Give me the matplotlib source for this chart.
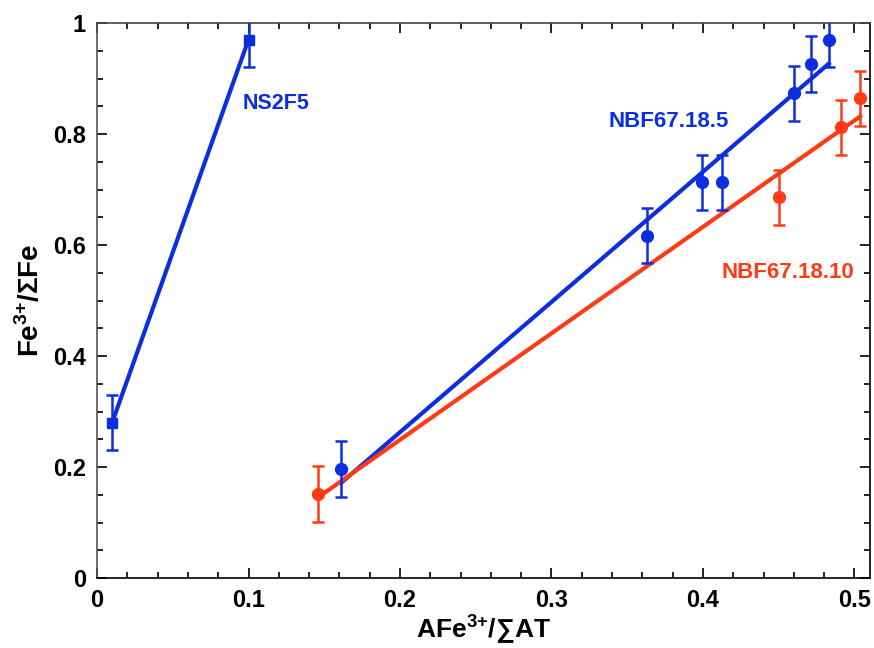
import numpy as np
import matplotlib
matplotlib.use("Agg")
import matplotlib.pyplot as plt
from matplotlib.ticker import MultipleLocator

plt.rcParams['font.family'] = ['Liberation Sans', 'DejaVu Sans']
plt.rcParams['font.weight'] = 'bold'
plt.rcParams['mathtext.fontset'] = 'custom'
plt.rcParams['mathtext.rm'] = 'Liberation Sans:bold'
plt.rcParams['mathtext.bf'] = 'Liberation Sans:bold'

# Data
ns_x = [0.01, 0.10]
ns_y = [0.28, 0.97]
ns_err = [0.05, 0.05]

b_x = [0.161, 0.363, 0.3995, 0.4127, 0.4604, 0.471, 0.483]
b_y = [0.196, 0.617, 0.713, 0.713, 0.873, 0.926, 0.970]
b_err = [0.05] * 7

r_x = [0.1456, 0.4505, 0.491, 0.5037]
r_y = [0.151, 0.686, 0.812, 0.864]
r_err = [0.05] * 4

blue = '#0A2EE0'
red = '#FF3A14'

fig = plt.figure(figsize=(8.74, 6.48), dpi=100)
ax = fig.add_axes([0.111, 0.108, 0.884, 0.8565])

# NS2F5
ax.plot(ns_x, ns_y, color=blue, lw=3.0, zorder=2)
ax.errorbar(ns_x, ns_y, yerr=ns_err, fmt='s', color=blue, ms=7.5, elinewidth=1.8,
            capsize=4, capthick=1.8, zorder=3)

# NBF67.18.5 fit
pb = np.polyfit(b_x, b_y, 1)
xb = np.array([min(b_x), max(b_x)])
ax.plot(xb, np.polyval(pb, xb), color=blue, lw=3.0, zorder=2)
ax.errorbar(b_x, b_y, yerr=b_err, fmt='o', color=blue, ms=8.5, elinewidth=1.8,
            capsize=4, capthick=1.8, zorder=3)

# NBF67.18.10 fit
pr = np.polyfit(r_x, r_y, 1)
xr = np.array([min(r_x), max(r_x)])
ax.plot(xr, np.polyval(pr, xr), color=red, lw=3.0, zorder=2)
ax.errorbar(r_x, r_y, yerr=r_err, fmt='o', color=red, ms=8.5, elinewidth=1.8,
            capsize=4, capthick=1.8, zorder=3)

ax.text(0.0963, 0.855, 'NS2F5', color=blue, fontsize=15.5, fontweight='bold',
        ha='left', va='center')
ax.text(0.3377, 0.822, 'NBF67.18.5', color=blue, fontsize=16, fontweight='bold',
        ha='left', va='center')
ax.text(0.412, 0.550, 'NBF67.18.10', color=red, fontsize=16, fontweight='bold',
        ha='left', va='center')

ax.set_xlim(0, 0.51)
ax.set_ylim(0, 1)
ax.xaxis.set_minor_locator(MultipleLocator(0.02))
ax.yaxis.set_minor_locator(MultipleLocator(0.05))
ax.set_xticks([0, 0.1, 0.2, 0.3, 0.4, 0.5])
ax.set_xticklabels(['0', '0.1', '0.2', '0.3', '0.4', '0.5'])
ax.set_yticks([0, 0.2, 0.4, 0.6, 0.8, 1.0])
ax.set_yticklabels(['0', '0.2', '0.4', '0.6', '0.8', '1'])
ax.tick_params(which='both', direction='in', top=True, right=True,
               labelsize=17, width=1.2)
ax.tick_params(axis='x', pad=8)
ax.tick_params(axis='y', pad=8)
ax.tick_params(which='major', length=7)
ax.tick_params(which='minor', length=4)
for lab in ax.get_xticklabels() + ax.get_yticklabels():
    lab.set_fontweight('bold')
for s in ax.spines.values():
    s.set_linewidth(1.2)
ax.spines['left'].set_color('#555555')
ax.spines['top'].set_color('#444444')

ax.set_xlabel(r'AFe$^{\mathbf{3{+}}}$/∑AT', fontsize=19, fontweight='bold', labelpad=0)
ax.set_ylabel(r'Fe$^{\mathbf{3{+}}}$/ΣFe', fontsize=20, fontweight='bold', labelpad=6)

fig.savefig('out.png', dpi=100)
